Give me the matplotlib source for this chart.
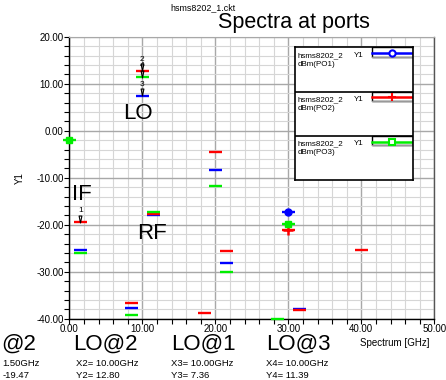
import matplotlib
matplotlib.use("Agg")
import matplotlib.pyplot as plt
import matplotlib.transforms as mtransforms
from matplotlib.patches import Rectangle
from matplotlib.path import Path
from matplotlib.ticker import MultipleLocator
import numpy as np

plt.rcParams["font.family"] = ["Liberation Sans", "DejaVu Sans"]

# ---- data (GHz, dBm) ----
po1_freq = [1.5, 8.5, 10.0, 11.5, 20.0, 21.5, 30.0, 31.5]
po1_dbm = [-25.3, -37.7, 7.36, -18.0, -8.4, -28.2, -17.4, -37.9]

po2_freq = [1.5, 8.5, 10.0, 11.5, 18.5, 20.0, 21.5, 30.0, 31.5, 40.0]
po2_dbm = [-19.47, -36.7, 12.80, -17.7, -38.8, -4.6, -25.5, -21.1, -38.1, -25.4]

po3_freq = [0.0, 1.5, 8.5, 10.0, 11.5, 20.0, 21.5, 28.5, 30.0]
po3_dbm = [-2.0, -26.0, -39.3, 11.39, -17.4, -11.7, -30.0, -40.1, -19.8]

# points where ADS drew the trace symbol
po1_sym = [30.0]
po2_sym = [30.0]
po3_sym = [0.0, 30.0]

series_names = ["dBm(PO1)", "dBm(PO2)", "dBm(PO3)"]
series_colors = ["#0000ff", "#ff0000", "#00ee00"]
series_markers = ["o", "+", "s"]

# markers: (label, series index, freq, value)
marker_labels = ["1", "2", "3", "4"]
marker_series = [1, 1, 0, 2]
marker_freq = [1.5, 10.0, 10.0, 10.0]
marker_vals = [-19.47, 12.80, 7.36, 11.39]

# band labels inside the plot
band_text = ["LO", "IF", "RF"]
band_x = [7.4, 0.4, 9.3]
band_y = [2.4, -14.7, -23.0]

# marker readouts under the plot
readout_title = ["@2", "LO@2", "LO@1", "LO@3"]
readout_line1 = ["1.50GHz", "X2= 10.00GHz", "X3= 10.00GHz", "X4= 10.00GHz"]
readout_line2 = ["-19.47", "Y2= 12.80", "Y3= 7.36", "Y4= 11.39"]

W, H = 446, 380
fig = plt.figure(figsize=(W / 100, H / 100), dpi=100)


def fx(px):
    return px / W


def fy(py):
    return 1 - py / H


ax = fig.add_axes([fx(69.3), fy(318.7), fx(434.3) - fx(69.3), fy(36.7) - fy(318.7)])
ax.set_xlim(0, 50)
ax.set_ylim(-40, 20)

ax.xaxis.set_major_locator(MultipleLocator(10))
ax.xaxis.set_minor_locator(MultipleLocator(2))
ax.yaxis.set_major_locator(MultipleLocator(10))
ax.yaxis.set_minor_locator(MultipleLocator(2))
ax.grid(which="minor", color="#d6d6d6", lw=0.8)
ax.grid(which="major", color="#a8a8a8", lw=1.0)
ax.set_axisbelow(True)
ax.xaxis.set_major_formatter(lambda v, p: f"{v:.2f}")
ax.yaxis.set_major_formatter(lambda v, p: f"{v:.2f}")
ax.tick_params(which="both", direction="out", length=3.5, width=0.8, labelsize=7, pad=0.5)
for s in ["left", "bottom"]:
    ax.spines[s].set_color("black")
    ax.spines[s].set_linewidth(1.0)
ax.spines["right"].set_color("#555555")
ax.spines["right"].set_linewidth(1.0)
ax.spines["top"].set_color("#a8a8a8")
ax.set_ylabel("Y1", fontsize=7, labelpad=8)

all_freq = [po1_freq, po2_freq, po3_freq]
all_dbm = [po1_dbm, po2_dbm, po3_dbm]
all_sym = [po1_sym, po2_sym, po3_sym]
half = 0.87
for f, d, sy, c, m in zip(all_freq, all_dbm, all_sym, series_colors, series_markers):
    f = np.array(f)
    d = np.array(d)
    ax.hlines(d, f - half, f + half, colors=c, lw=1.7, zorder=3, clip_on=False)
    idx = [list(f).index(v) for v in sy]
    if m == "+":
        ax.plot(f[idx], d[idx], ls="none", marker=m, ms=7, mew=1.8, color=c, zorder=4, clip_on=False)
    else:
        ax.plot(f[idx], d[idx], ls="none", marker=m, ms=5, mfc=c, mec=c, color=c, zorder=4, clip_on=False)

# marker annotations (narrow triangle + number)
narrow_tri = Path([(-0.4, 1.0), (0.4, 1.0), (0.0, -1.0), (-0.4, 1.0)],
                  [Path.MOVETO, Path.LINETO, Path.LINETO, Path.CLOSEPOLY])
for lab, si, fr, v in zip(marker_labels, marker_series, marker_freq, marker_vals):
    tri = mtransforms.offset_copy(ax.transData, fig=fig, x=0, y=2.6, units="points")
    ax.plot([fr], [v], ls="none", marker=narrow_tri, ms=5, mfc="none", mec="black", mew=0.8,
            transform=tri, zorder=5)
    ax.annotate(lab, (fr, v), xytext=(0, 5.6), textcoords="offset points",
                ha="center", va="bottom", fontsize=6, zorder=6)

for t, x, y in zip(band_text, band_x, band_y):
    ax.text(x, y, t, fontsize=16, ha="left", va="baseline", zorder=6)

# titles
fig.text(fx(203), fy(10.5), "hsms8202_1.ckt", fontsize=6.4, ha="center", va="baseline")
fig.text(fx(293.5), fy(28.0), "Spectra at ports", fontsize=15.5, ha="center", va="baseline")
fig.text(fx(429), fy(346), "Spectrum [GHz]", fontsize=7, ha="right", va="baseline")

# readouts
rx = [1.7, 73, 171, 265.7]
rx2 = [2.7, 76, 171, 265.7]
for i in range(4):
    fig.text(fx(rx[i]), fy(350), readout_title[i], fontsize=16, ha="left", va="baseline")
    fig.text(fx(rx2[i]), fy(365.5), readout_line1[i], fontsize=6.8, ha="left", va="baseline")
    fig.text(fx(rx2[i]), fy(378.5), readout_line2[i], fontsize=6.8, ha="left", va="baseline")

# legend box drawn in pixel units
lx0, lx1, ly0, ly1 = 295, 412.7, 47.3, 180
lg = fig.add_axes([fx(lx0), fy(ly1), fx(lx1) - fx(lx0), fy(ly0) - fy(ly1)])
lg.set_xlim(lx0, lx1)
lg.set_ylim(ly1, ly0)
lg.set_xticks([])
lg.set_yticks([])
lg.patch.set_facecolor("white")
for s in lg.spines.values():
    s.set_color("black")
    s.set_linewidth(1.2)
sec_h = (ly1 - ly0) / 3
for i, (name, c, m) in enumerate(zip(series_names, series_colors, series_markers)):
    top = ly0 + i * sec_h
    if i > 0:
        lg.plot([lx0, lx1], [top, top], color="black", lw=1.2)
    lg.text(lx0 + 3, top + 9.5, "hsms8202_2", fontsize=5.8, va="baseline")
    lg.text(lx0 + 59, top + 9.5, "Y1", fontsize=5.8, va="baseline")
    lg.text(lx0 + 3, top + 18.5, name, fontsize=5.8, va="baseline")
    lg.add_patch(Rectangle((371.7, top), lx1 - 371.7, 9.5, fc="white", ec="black", lw=1.0))
    lg.plot([371.7, lx1], [top + 9.5, top + 9.5], color="#999999", lw=1.0)
    lg.plot([371.7, lx1], [top + 5.8, top + 5.8], color=c, lw=1.8)
    if m == "+":
        lg.plot([392], [top + 5.8], marker=m, ms=6, mew=1.5, color=c)
    else:
        lg.plot([392], [top + 5.8], marker=m, ms=4.5, mfc="white", mec=c, mew=1.5)

fig.savefig("out.png", dpi=100)
